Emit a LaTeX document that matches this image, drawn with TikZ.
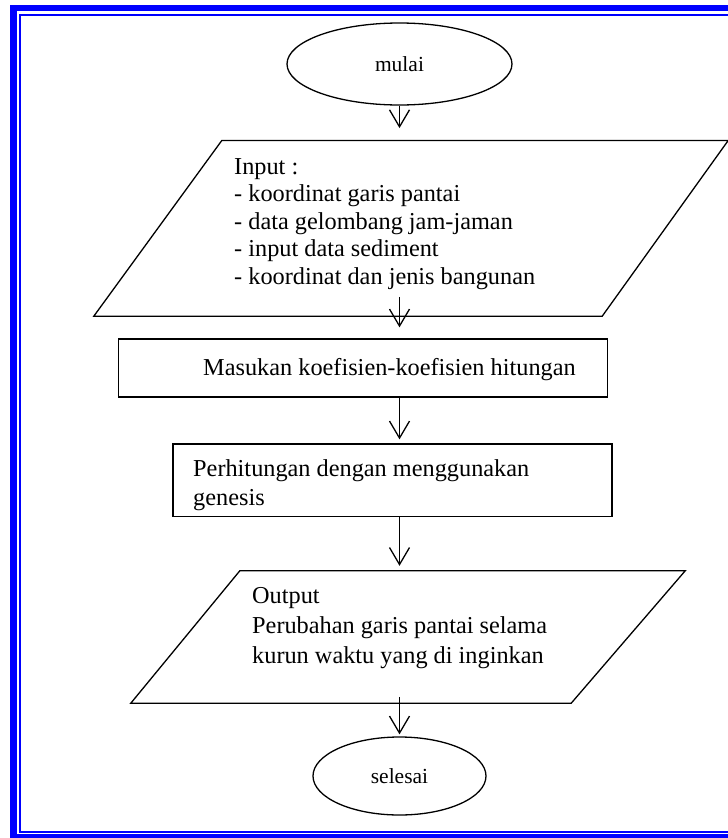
\documentclass[tikz,border=0pt]{standalone}
\usepackage{fontspec}
\setmainfont{Liberation Serif}
\usetikzlibrary{arrows.meta,calc,shapes.geometric}
\begin{document}
\begin{tikzpicture}[x=1pt,y=-1pt,
  ln/.style={line width=1.3pt,draw=black},
  hid/.style={draw=none,inner sep=0pt},
  oval/.style={ellipse,ln,inner sep=0pt,font=\fontsize{21.5}{24}\selectfont},
  boxx/.style={rectangle,ln,inner sep=0pt},
  arr/.style={line width=1.3pt,-{Straight Barb[length=17pt,width=20pt]}},
  txt/.style={inner sep=0pt,anchor=base west}
]
\useasboundingbox (0,0) rectangle (728,838);
\begin{scope}
\clip (0,0) rectangle (728,838);
\draw[blue,line width=6.5pt] (13.3,7.85) rectangle (745,837.6);
\draw[blue,line width=2.2pt] (20,14.7) rectangle (740,831.8);
\end{scope}

% start
\node[oval,minimum width=225pt,minimum height=82pt] (mulai) at (399.5,64) {mulai};

% input parallelogram
\node[hid,minimum width=634pt,minimum height=175.3pt] (inp) at (411,228.35) {};
\draw[ln] (inp.south west) -- ($(inp.north west)+(128,0)$) -- (inp.north east) -- ($(inp.south east)+(-126,0)$) -- cycle;
\node[txt] (inptxt) at (234,174.3) {\fontsize{24.3}{27.5}\selectfont\begin{tabular}[t]{@{}l@{}}Input :\\- koordinat garis pantai\\- data gelombang jam-jaman\\- input data sediment\\- koordinat dan jenis bangunan\end{tabular}};

% masukan box
\node[boxx,minimum width=489pt,minimum height=58pt] (mas) at (363,368) {};
\node[txt] (mastxt) at (203,375) {\fontsize{24.3}{26.6}\selectfont Masukan koefisien-koefisien hitungan};

% perhitungan box
\node[boxx,minimum width=439pt,minimum height=72.7pt] (per) at (392.5,480.35) {};
\node[txt] (pertxt) at (193,476.7) {\fontsize{24.3}{28.3}\selectfont\begin{tabular}[t]{@{}l@{}}Perhitungan dengan menggunakan\\genesis\end{tabular}};

% output parallelogram
\node[hid,minimum width=554pt,minimum height=132pt] (out) at (408,637) {};
\draw[ln] (out.south west) -- ($(out.north west)+(109,0)$) -- (out.north east) -- ($(out.south east)+(-114,0)$) -- cycle;
\node[txt] (outtxt) at (252,603) {\fontsize{24.3}{30}\selectfont\begin{tabular}[t]{@{}l@{}}Output\\Perubahan garis pantai selama\\kurun waktu yang di inginkan\end{tabular}};

% end
\node[oval,minimum width=173pt,minimum height=78pt] (selesai) at (399.5,776) {selesai};

% connectors
\draw[arr,shorten >=12.4pt] (mulai.south) -- (mulai.south |- inp.north);
\draw[arr,shorten <=-19.3pt,shorten >=11pt] (mulai.south |- inp.south) -- (mulai.south |- mas.north);
\draw[arr,shorten >=4pt] (mulai.south |- mas.south) -- (mulai.south |- per.north);
\draw[arr,shorten >=5pt] (mulai.south |- per.south) -- (mulai.south |- out.north);
\draw[arr,shorten <=-6.3pt,shorten >=2pt] (selesai.north |- out.south) -- (selesai.north);
\end{tikzpicture}
\end{document}
